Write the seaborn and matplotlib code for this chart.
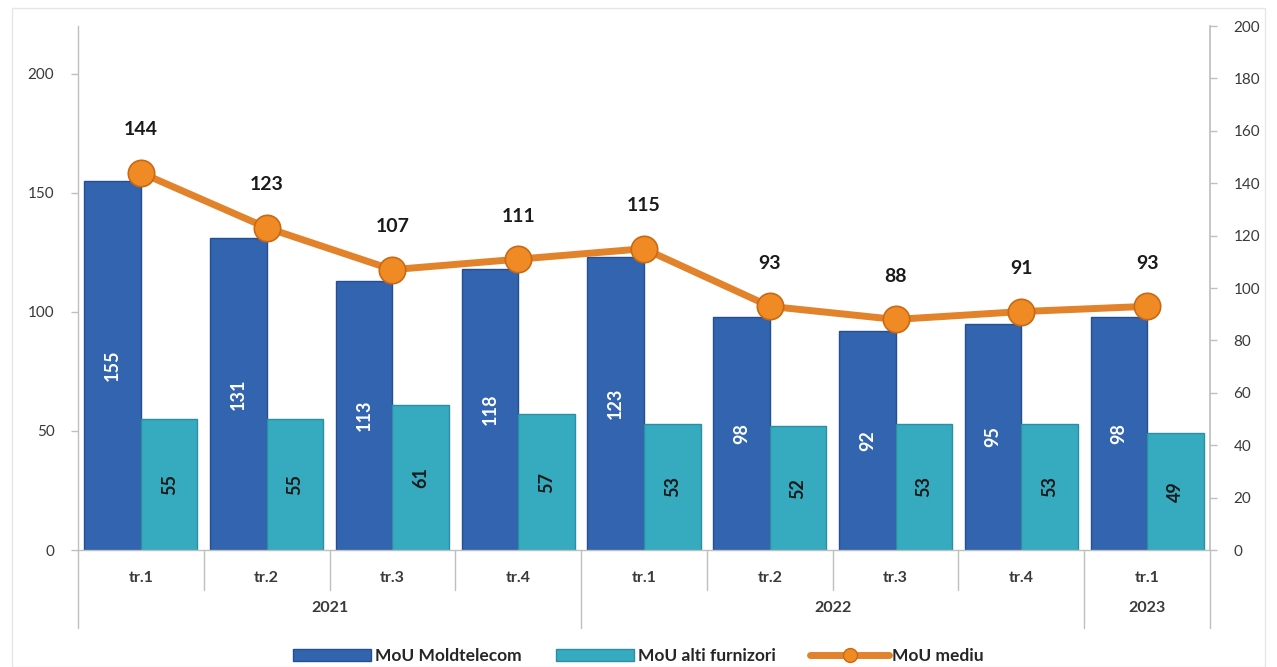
import numpy as np
import pandas as pd
import matplotlib
matplotlib.use("Agg")
import matplotlib.pyplot as plt
import matplotlib.transforms as mtransforms
from matplotlib.patches import Patch
from matplotlib.lines import Line2D
import seaborn as sns

# ---- data ----
quarters = ["tr.1", "tr.2", "tr.3", "tr.4", "tr.1", "tr.2", "tr.3", "tr.4", "tr.1"]
years = ["2021", "2021", "2021", "2021", "2022", "2022", "2022", "2022", "2023"]
mou_moldtelecom = [155, 131, 113, 118, 123, 98, 92, 95, 98]
mou_alti = [55, 55, 61, 57, 53, 52, 53, 53, 49]
mou_mediu = [144, 123, 107, 111, 115, 93, 88, 91, 93]
series_names = ["MoU Moldtelecom", "MoU alti furnizori", "MoU mediu"]
left_ticks = [0, 50, 100, 150, 200]
right_ticks = list(range(0, 201, 20))

sns.set_theme(style="white")
plt.rcParams["font.family"] = ["Lato", "DejaVu Sans"]

c_blue = "#3264B0"
c_cyan = "#36AABF"
c_orange = "#E2822B"
c_text = "#3a3a3a"
c_axis = "#BFBFBF"

n = len(quarters)
cat_ids = [f"c{i}" for i in range(n)]
df = pd.DataFrame({
    "cat": cat_ids * 2,
    "value": mou_moldtelecom + mou_alti,
    "series": [series_names[0]] * n + [series_names[1]] * n,
})

fig = plt.figure(figsize=(12.77, 6.67), dpi=100)
ax = fig.add_axes([78 / 1277, 1 - 550 / 667, (1210 - 78) / 1277, (550 - 26) / 667])

sns.barplot(data=df, x="cat", y="value", hue="series", order=cat_ids,
            hue_order=series_names[:2], palette=[c_blue, c_cyan],
            width=0.9, ax=ax, legend=False, saturation=1)

conts = ax.containers
for p in conts[0]:
    p.set_edgecolor("#254F8F")
    p.set_linewidth(1)
for p in conts[1]:
    p.set_edgecolor("#2A8FA3")
    p.set_linewidth(1)

ax.set_xlim(-0.5, n - 0.5)
ax.set_ylim(0, 220)
ax.set_yticks(left_ticks)
ax.set_xticks([])
ax.set_xlabel("")
ax.set_ylabel("")
ax.tick_params(axis="y", labelsize=11, colors=c_text, length=5, width=1, color=c_axis, direction="out", pad=12)
for s in ["top", "right"]:
    ax.spines[s].set_visible(False)
for s in ["left", "bottom"]:
    ax.spines[s].set_color(c_axis)
    ax.spines[s].set_linewidth(1)

# bar value labels
ax.bar_label(conts[0], labels=[str(v) for v in mou_moldtelecom], label_type="center",
             rotation=90, color="white", fontsize=13, fontweight="bold")
ax.bar_label(conts[1], labels=[str(v) for v in mou_alti], label_type="center",
             rotation=90, color="#1a1a1a", fontsize=13, fontweight="bold")

# line on secondary axis
ax2 = ax.twinx()
xs = np.arange(n)
sns.lineplot(x=xs, y=mou_mediu, ax=ax2, color=c_orange, linewidth=5, marker="o",
             markersize=19, markerfacecolor="#F08A24", markeredgecolor="#C96A12",
             markeredgewidth=1.2, legend=False)
ax2.set_ylim(0, 200)
ax2.set_yticks(right_ticks)
ax2.set_xlim(-0.5, n - 0.5)
ax2.tick_params(axis="y", labelsize=11, colors=c_text, length=5, width=1, color=c_axis, direction="out", pad=12)
ax2.set_ylabel("")
for s in ["top", "left", "bottom"]:
    ax2.spines[s].set_visible(False)
ax2.spines["right"].set_color(c_axis)
ax2.grid(False)
ax.grid(False)

for x, v in zip(xs, mou_mediu):
    ax2.annotate(str(v), (x, v), xytext=(0, 31), textcoords="offset points",
                 ha="center", va="center", fontsize=14, fontweight="bold", color="#1a1a1a")

# multi-level category axis
trans = mtransforms.blended_transform_factory(ax.transData, ax.transAxes)
for i, q in enumerate(quarters):
    ax.text(i, -0.053, q, transform=trans, ha="center", va="center",
            fontsize=11.5, fontweight="bold", color=c_text)
year_groups = {}
for i, y in enumerate(years):
    year_groups.setdefault(y, []).append(i)
for y, idx in year_groups.items():
    ax.text(np.mean(idx), -0.11, y, transform=trans, ha="center", va="center",
            fontsize=11.5, fontweight="bold", color=c_text)

major_bounds = [-0.5]
for y, idx in year_groups.items():
    major_bounds.append(max(idx) + 0.5)
for i in range(n - 1):
    b = i + 0.5
    if b in major_bounds:
        continue
    ax.add_line(Line2D([b, b], [0, -0.076], transform=trans, color=c_axis, lw=1, clip_on=False))
for b in major_bounds:
    ax.add_line(Line2D([b, b], [0, -0.149], transform=trans, color=c_axis, lw=1, clip_on=False))

# legend
handles = [
    Patch(facecolor=c_blue, edgecolor="#254F8F"),
    Patch(facecolor=c_cyan, edgecolor="#2A8FA3"),
    Line2D([0], [0], color=c_orange, lw=5, marker="o", markersize=10,
           markerfacecolor="#F08A24", markeredgecolor="#C96A12"),
]
fig.legend(handles, series_names, loc="center", bbox_to_anchor=(0.5, 1 - 656 / 667),
           ncol=3, frameon=False, prop={"weight": "bold", "size": 12.5},
           handlelength=4.5, handleheight=0.7, handletextpad=0.2, columnspacing=2.0)

# faint chart border
fig.patches.append(plt.Rectangle((12 / 1277, 0.0), 1253 / 1277, 1 - 8 / 667,
                                 transform=fig.transFigure, fill=False,
                                 edgecolor="#E6E6E6", lw=1))

fig.savefig("out.png", dpi=100)
